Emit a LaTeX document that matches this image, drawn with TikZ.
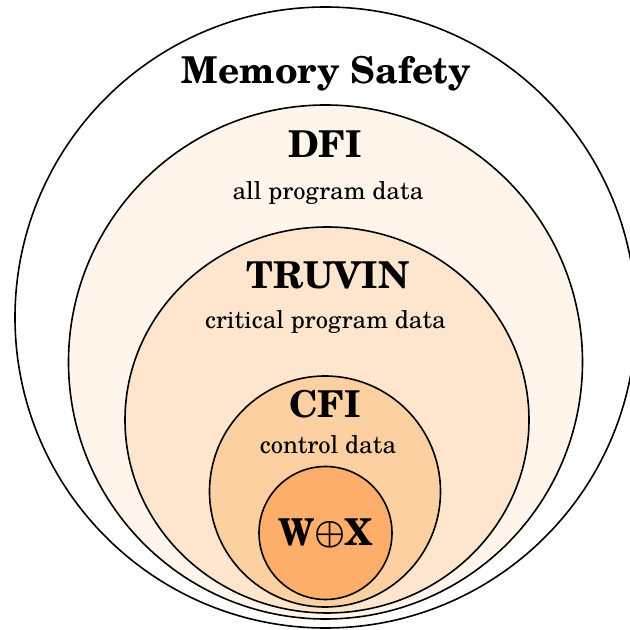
\documentclass[tikz,border=0pt]{standalone}
\usepackage{fontspec}
\setmainfont{TeX Gyre Schola}
\usetikzlibrary{shapes.geometric}
\definecolor{c1}{HTML}{FFF5EB}
\definecolor{c2}{HTML}{FEE6CE}
\definecolor{c3}{HTML}{FDD0A2}
\definecolor{c4}{HTML}{FDAE6B}
\tikzset{
  ring/.style={draw=black, line width=1.6pt, inner sep=0pt, circle},
  oval/.style={draw=black, line width=1.6pt, inner sep=0pt, ellipse},
  title/.style={anchor=base, inner sep=0pt, font=\fontsize{37}{42}\selectfont\bfseries\boldmath},
  sub/.style={anchor=base, inner sep=0pt, font=\fontsize{24.5}{28}\selectfont},
}
\begin{document}
\begin{tikzpicture}[x=1pt,y=1pt]
\useasboundingbox (0,0) rectangle (630,630);
\node[ring, fill=white, minimum size=621pt] (ms) at (325.5,312.5) {};
\node[ring, fill=c1, minimum size=514pt] (dfi) at (325.5,268) {};
\node[oval, fill=c2, minimum width=404pt, minimum height=386pt] (truvin) at (327,210) {};
\node[ring, fill=c3, minimum size=231pt] (cfi) at (325,138.5) {};
\node[ring, fill=c4, minimum size=133pt] (wx) at (325.5,97) {};
\node[title] (tms) at (326.5,546) {Memory Safety};
\node[title] (tdfi) at (325,472) {DFI};
\node[sub] (sdfi) at (328,430) {all program data};
\node[title] (ttruvin) at (328,341) {TRUVIN};
\node[sub] (struvin) at (325.5,301) {critical program data};
\node[title] (tcfi) at (325,212) {CFI};
\node[sub] (scfi) at (328,176) {control data};
\node[title] (twx) at (325.5,84) {W\raisebox{2.2pt}{\scalebox{1.4}{$\mathord{\oplus}$}}X};
\end{tikzpicture}
\end{document}
